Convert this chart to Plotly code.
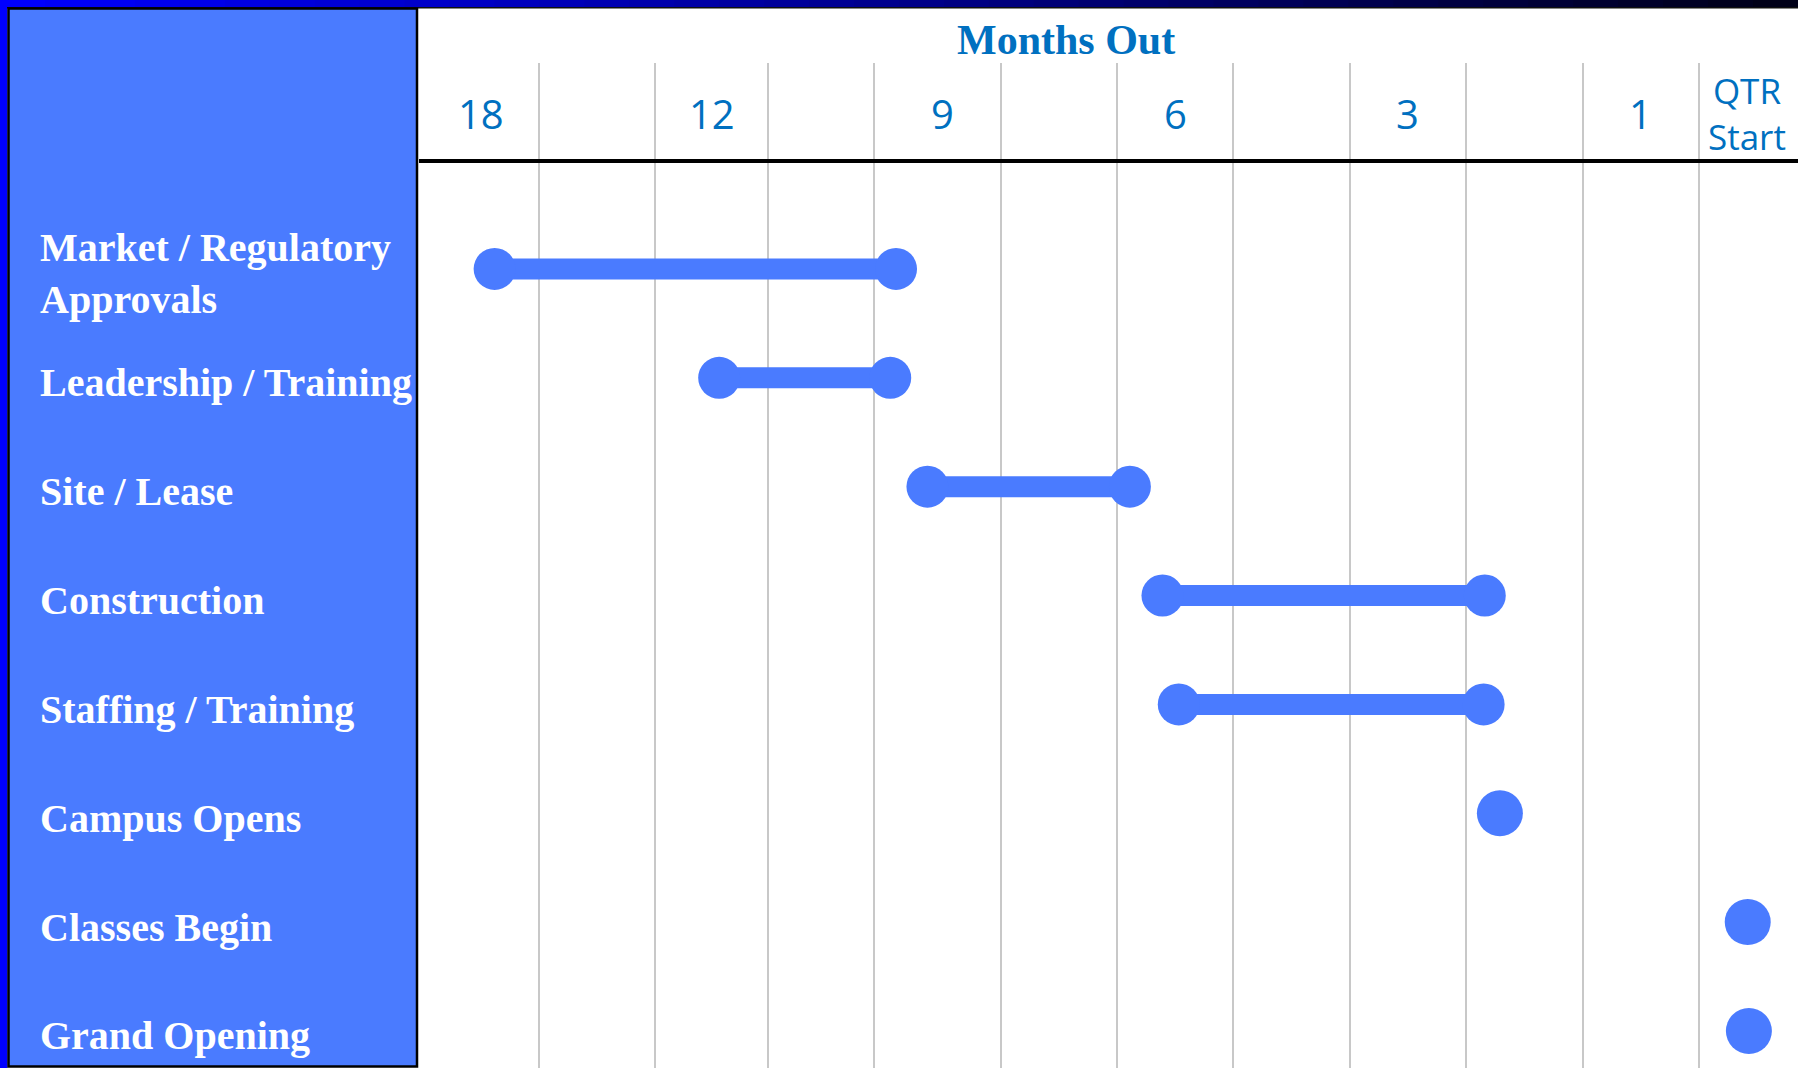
import plotly.graph_objects as go

# ---------------- data ----------------
tasks = [
    "Market / Regulatory<br>Approvals",
    "Leadership / Training",
    "Site / Lease",
    "Construction",
    "Staffing / Training",
    "Campus Opens",
    "Classes Begin",
    "Grand Opening",
]
# positions on the timeline, in header-column units (column 0 starts at the label panel)
start_col = [0.65, 2.58, 4.37, 6.39, 6.53, 9.29, 11.42, 11.43]
end_col = [4.10, 4.05, 6.11, 9.16, 9.15, None, None, None]

header_labels = ["18", "12", "9", "6", "3", "1", "QTR<br>Start"]
header_pos = [0.53, 2.52, 4.5, 6.5, 8.5, 10.5, 11.41]
grid_pos = [1.03, 2.03, 3.0, 3.91, 5, 6, 7, 8, 9, 10, 11]

# ---------------- style ----------------
W, H = 1798, 1068
ML, MT = 419, 163
PW, PH = W - ML, H - MT
BLUE = "#4A7BFF"
HEAD = "#0070C0"
GRID = "#C8C8C8"
SERIF = "Liberation Serif, Times New Roman, serif"
SANS = "Open Sans, Noto Sans, sans-serif"


def px_x(p):
    return (p - ML) / PW


def px_y(p):
    return (H - p) / PH


# ---------------- traces ----------------
rx, ry, mx, my = [], [], [], []
for t, s, e in zip(tasks, start_col, end_col):
    if e is None:
        mx.append(s)
        my.append(t)
    else:
        rx += [s, e, None]
        ry += [t, t, None]

fig = go.Figure()
fig.add_trace(go.Scatter(
    x=rx, y=ry, mode="lines+markers",
    line=dict(color=BLUE, width=21),
    marker=dict(color=BLUE, size=42, line=dict(width=0)),
    hoverinfo="skip", showlegend=False, connectgaps=False,
))
fig.add_trace(go.Scatter(
    x=mx, y=my, mode="markers",
    marker=dict(color=BLUE, size=46, line=dict(width=0)),
    hoverinfo="skip", showlegend=False,
))

# ---------------- decoration shapes ----------------
shapes = []
# top gradient band
n = 40
for i in range(n):
    f = i / (n - 1)
    b = int(round(255 + (24 - 255) * f))
    shapes.append(dict(type="rect", xref="paper", yref="paper",
                       x0=px_x(W * i / n), x1=px_x(W * (i + 1) / n + 1),
                       y0=px_y(7), y1=px_y(0),
                       fillcolor=f"rgb(0,0,{b})", line=dict(width=0), layer="above"))
# left bright border
shapes.append(dict(type="rect", xref="paper", yref="paper",
                   x0=px_x(0), x1=px_x(7.5), y0=px_y(H), y1=px_y(0),
                   fillcolor="#0000FF", line=dict(width=0)))
# thin dark line under top band
shapes.append(dict(type="line", xref="paper", yref="paper",
                   x0=px_x(7), x1=px_x(W), y0=px_y(7.8), y1=px_y(7.8),
                   line=dict(color="#101010", width=1.5)))
# label panel
shapes.append(dict(type="rect", xref="paper", yref="paper",
                   x0=px_x(8.5), x1=px_x(417), y0=px_y(1066.5), y1=px_y(8.5),
                   fillcolor=BLUE, line=dict(color="black", width=2.5)))

# ---------------- annotations ----------------
ann = []
ann.append(dict(text="Months Out", xref="paper", yref="paper",
                x=px_x(1066), y=px_y(40), xanchor="center", yanchor="middle",
                showarrow=False,
                font=dict(family=SERIF, size=42, color=HEAD, weight="bold")))
for lab, pos in zip(header_labels, header_pos):
    ann.append(dict(text=lab, xref="x", yref="paper", x=pos, y=px_y(114),
                    xanchor="center", yanchor="middle", showarrow=False,
                    font=dict(family=SANS, size=35 if "<br>" in lab else 40, color=HEAD)))
for t in tasks:
    ann.append(dict(text=t, xref="paper", yref="y", x=px_x(38), y=t,
                    xanchor="left", yanchor="middle", align="left", yshift=-5,
                    showarrow=False,
                    font=dict(family=SERIF, size=40, color="white", weight="bold")))

fig.update_layout(
    width=W, height=H,
    margin=dict(l=ML, r=0, t=MT, b=0, autoexpand=False),
    paper_bgcolor="white", plot_bgcolor="white",
    shapes=shapes, annotations=ann,
    xaxis=dict(
        side="top", range=[0, PW / 116.35], showgrid=False, zeroline=False,
        showline=True, linecolor="black", linewidth=4,
        tickmode="array", tickvals=header_pos, showticklabels=False, ticks="",
        minor=dict(tickmode="array", tickvals=grid_pos, showgrid=True,
                   gridcolor=GRID, gridwidth=1.5, ticks="outside", ticklen=96,
                   tickcolor=GRID, tickwidth=1.5),
        fixedrange=True,
    ),
    yaxis=dict(
        type="category", categoryorder="array", categoryarray=tasks,
        range=[7.34, -0.973], showgrid=False, zeroline=False,
        showticklabels=False, showline=False, fixedrange=True,
    ),
)

fig.write_html("out.html", config={"displayModeBar": False},
               post_script="document.body.style.margin='0';")
